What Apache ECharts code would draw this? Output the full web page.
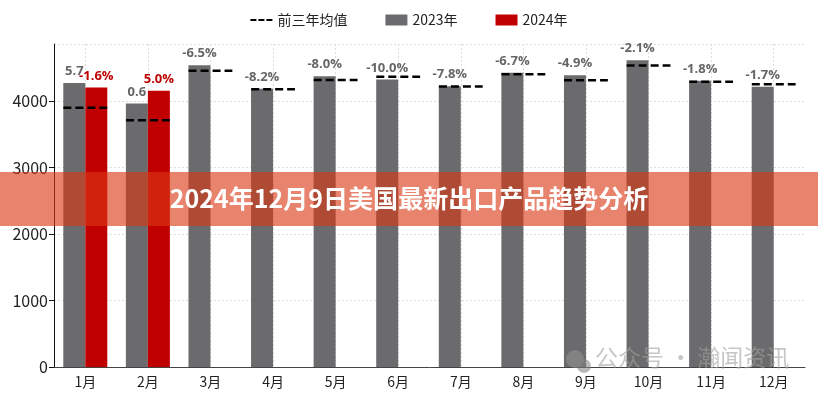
<!DOCTYPE html>
<html><head><meta charset="utf-8">
<script src="https://cdn.jsdelivr.net/npm/echarts@6/dist/echarts.min.js"></script>
<style>html,body{margin:0;padding:0;background:#fff}#c{width:818px;height:400px}</style>
</head><body><div id="c"></div>
<script>
const categories = ['1月','2月','3月','4月','5月','6月','7月','8月','9月','10月','11月','12月'];
const values2023 = [4275, 3965, 4541, 4185, 4376, 4326, 4226, 4426, 4391, 4617, 4306, 4215];
const values2024 = [4206, 4155, null, null, null, null, null, null, null, null, null, null];
const avg3y = [3900, 3714, 4456, 4180, 4320, 4366, 4220, 4406, 4316, 4537, 4291, 4256];
const labels2023 = ['5.7','0.6','-6.5%','-8.2%','-8.0%','-10.0%','-7.8%','-6.7%','-4.9%','-2.1%','-1.8%','-1.7%'];
const labels2024 = ['-1.6%','5.0%','','','','','','','','','',''];
const yTicks = [0, 1000, 2000, 3000, 4000];
const titleText = '2024年12月9日美国最新出口产品趋势分析';
const watermark = '公众号 · 瀚闻资讯';

const chart = echarts.init(document.getElementById('c'));
const font = '"Noto Sans CJK SC","Noto Sans",sans-serif';
chart.setOption({
  animation: false,
  textStyle: {fontFamily: font},
  legend: {
    top: 8, left: 'center', itemGap: 38, itemWidth: 22, itemHeight: 11,
    textStyle: {fontSize: 14, color: '#222', fontFamily: font},
    data: [
      {name: '前三年均值', icon: 'path://M0,0h6v2h-6z M8,0h6v2h-6z M16,0h6v2h-6z', itemStyle:{color:'#000'}},
      {name: '2023年', icon: 'rect'},
      {name: '2024年', icon: 'rect'}
    ]
  },
  grid: {left: 54, right: 13, top: 44, bottom: 33},
  xAxis: {
    type: 'category', data: categories,
    axisLine: {lineStyle: {color: '#444', width: 1}},
    axisTick: {alignWithLabel: true, length: 5, lineStyle: {color: '#444'}},
    axisLabel: {fontSize: 14, color: '#222', margin: 8},
    splitLine: {show: true, alignWithLabel: true, lineStyle: {color: '#ddd', type: [2, 2]}}
  },
  yAxis: {
    type: 'value', min: 0, max: 4860, interval: 1000,
    axisLine: {show: true, lineStyle: {color: '#111'}},
    axisTick: {show: true, length: 5, lineStyle: {color: '#111'}},
    axisLabel: {fontSize: 16, color: '#222', showMaxLabel: false, margin: 6,
      formatter: v => yTicks.includes(v) ? String(v) : ''},
    splitLine: {lineStyle: {color: '#ddd', type: [2, 2]}}
  },
  series: [
    {
      name: '2023年', type: 'bar', data: values2023, barWidth: 22, barGap: '0%',
      itemStyle: {color: '#6b6b6d'},
      label: {show: true, position: 'top', distance: 5, color: '#666', fontWeight: 'bold', fontSize: 13,
        fontFamily: '"Open Sans",sans-serif', formatter: p => labels2023[p.dataIndex]}
    },
    {
      name: '2024年', type: 'bar', data: values2024, barWidth: 22, barGap: '0%',
      itemStyle: {color: '#c00000'},
      label: {show: true, position: 'top', distance: 5, color: '#c00000', fontWeight: 'bold', fontSize: 13,
        fontFamily: '"Open Sans",sans-serif', formatter: p => labels2024[p.dataIndex]}
    },
    {
      name: '前三年均值', type: 'custom', z: 5,
      itemStyle: {color: '#000'},
      data: avg3y.map((v, i) => [i, v]),
      renderItem: function (params, api) {
        const c = api.coord([api.value(0), api.value(1)]);
        const w = api.size([1, 0])[0] * 0.7;
        return {type: 'line', shape: {x1: c[0] - w / 2, y1: c[1], x2: c[0] + w / 2, y2: c[1]},
          style: {stroke: '#000', lineWidth: 2.5, lineDash: [8, 4]}};
      }
    }
  ],
  graphic: [
    {type: 'rect', left: 0, top: 172, z: 100, shape: {width: 818, height: 54},
      style: {fill: 'rgba(218,55,20,0.62)'}},
    {type: 'text', left: 'center', top: 186, z: 101,
      style: {text: titleText, fill: '#fff', fontSize: 25, fontWeight: 'bold', fontFamily: font}},
    {type: 'circle', left: 566, top: 350, z: 99, shape: {r: 9}, style: {fill: 'rgba(150,150,150,0.55)'}},
    {type: 'circle', left: 577, top: 359, z: 99, shape: {r: 7}, style: {fill: 'rgba(130,130,130,0.55)'}},
    {type: 'text', left: 595, top: 346, z: 99,
      style: {text: watermark, fill: 'rgba(160,160,160,0.6)', fontSize: 23, fontFamily: font}}
  ]
});
</script></body></html>
